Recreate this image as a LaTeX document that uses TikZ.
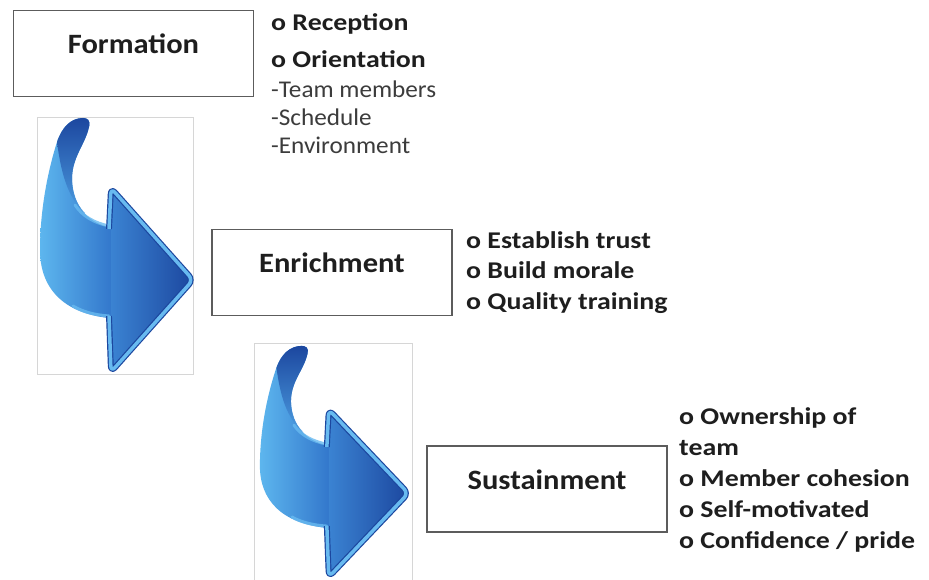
\documentclass[tikz,border=0pt]{standalone}
\usepackage{fontspec}
\setmainfont{Carlito}
\newfontfamily\stagefont[FakeStretch=1.09]{Carlito}
\newfontfamily\pointfont[FakeStretch=1.16]{Carlito}
\newfontfamily\subfont[FakeStretch=1.05]{Carlito}
\usetikzlibrary{positioning}

\definecolor{boxline}{HTML}{5C5C5C}
\definecolor{txtdark}{HTML}{1E1E1E}
\definecolor{txtsub}{HTML}{3C3C3C}
\definecolor{framegray}{HTML}{D6D6D6}
\definecolor{arrowlight}{HTML}{5DB6EE}
\definecolor{arrowmid}{HTML}{3276CB}
\definecolor{arrowdark}{HTML}{1C479F}
\definecolor{arrowrim}{HTML}{68BAF0}

\tikzset{
  stage box/.style={
    draw=boxline, line width=1.2pt, rectangle,
    minimum width=240pt, minimum height=86pt,
    text height=20pt, text depth=20pt, inner sep=0pt,
    text=txtdark, font=\stagefont\fontsize{28}{32}\selectfont\bfseries
  },
  point list/.style={
    anchor=north west, align=left, inner sep=0pt,
    text=txtdark, font=\pointfont\fontsize{24}{30.5}\selectfont\bfseries
  },
  sub list/.style={
    anchor=north west, align=left, inner sep=0pt,
    text=txtsub, font=\subfont\fontsize{24}{28}\selectfont
  },
  clip frame/.style={draw=framegray, line width=0.8pt},
  turn arrow/.pic={
    % ribbon body, light on the left
    \shade[left color=arrowlight, right color=arrowmid]
      (46,1) .. controls (34,1) and (25,10) .. (20,25)
      .. controls (12,50) and (3,90) .. (3,133)
      .. controls (3,170) and (25,196) .. (72,201)
      -- (76,201) -- (76,110) -- (72,110)
      .. controls (52,106) and (36,90) .. (35,62)
      .. controls (35,40) and (48,28) .. (52,10)
      .. controls (54,3) and (50,1) .. (46,1) -- cycle;
    % dark back side of the curl
    \shade[top color=arrowdark, bottom color=arrowmid!40!arrowlight]
      (46,1) .. controls (34,1) and (25,10) .. (20,25)
      .. controls (24,55) and (30,80) .. (48,96)
      .. controls (38,86) and (35,75) .. (35,62)
      .. controls (35,40) and (48,28) .. (52,10)
      .. controls (54,3) and (50,1) .. (46,1) -- cycle;
    % highlights along the shaft edges
    \draw[arrowrim, line width=3pt, line cap=round, opacity=0.8]
      (72,109) .. controls (58,106) and (46,100) .. (38,88);
    \draw[arrowrim, line width=3pt, line cap=round, opacity=0.8]
      (72,199) .. controls (58,198) and (46,195) .. (36,189);
    % arrow head
    \shade[left color=arrowmid!80!arrowlight, right color=arrowdark, rounded corners=6pt]
      (74,71) -- (156,163) -- (74,255) -- cycle;
    \draw[draw=arrowdark, line width=1.2pt, double=arrowrim, double distance=3.5pt,
          rounded corners=6pt, line join=round]
      (72,112) -- (74,71) -- (156,163) -- (74,255) -- (72,199);
  }
}

\begin{document}
\begin{tikzpicture}[x=1pt, y=-1pt]
  \useasboundingbox[fill=white] (0,0) rectangle (929,580);

  % stages
  \node[stage box] (formation)   at (133.5,53.5) {Formation};
  \node[stage box] (enrichment)  at (332,272.5)  {Enrichment};
  \node[stage box] (sustainment) at (547,489)    {Sustainment};

  % Formation points
  \node[point list] (formhead) at (271,13) {o Reception\\[7pt]o Orientation};
  \node[sub list] (formsub) at (271,81) {-Team members\\-Schedule\\-Environment};

  % Enrichment points
  \node[point list] (enrichpts) at (466,231)
    {o Establish trust\\o Build morale\\o Quality training};

  % Sustainment points
  \node[point list, font=\pointfont\fontsize{24}{31.2}\selectfont\bfseries]
    (sustainpts) at (679,407)
    {o Ownership of\\team\\o Member cohesion\\o Self-motivated\\o Confidence / pride};

  % curved arrows between the stages
  \draw[clip frame] (37,117) rectangle (193,374);
  \pic (turnA) at (37,117) {turn arrow};

  \begin{scope}
    \clip (0,0) rectangle (929,580);
    \draw[clip frame] (254,343) rectangle (412,600);
    \pic[xscale=0.97, yscale=0.91] (turnB) at (257,345) {turn arrow};
  \end{scope}
\end{tikzpicture}
\end{document}
